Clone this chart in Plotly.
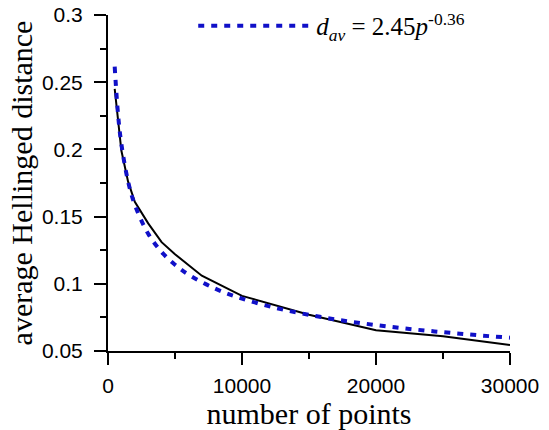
import plotly.graph_objects as go

# measured data (black solid line)
points = [500, 1000, 1500, 2000, 3000, 4000, 5000, 7000, 10000, 15000, 20000, 25000, 30000]
avg_dist = [0.245, 0.199, 0.176, 0.161, 0.145, 0.131, 0.122, 0.106, 0.091, 0.077, 0.0655, 0.061, 0.0545]

# fitted curve d_av = 2.45 p^-0.36 (values read at sample points)
fit_points = [500, 750, 1000, 1500, 2000, 3000, 4000, 5000, 6000, 8000, 10000, 12500,
              15000, 17500, 20000, 22500, 25000, 27500, 30000]
fit_dist = [0.2615, 0.2260, 0.2038, 0.1761, 0.1588, 0.1372, 0.1237, 0.1142, 0.1069, 0.0964,
            0.0890, 0.0821, 0.0769, 0.0727, 0.0693, 0.0664, 0.0640, 0.0618, 0.0599]

x_ticks = [0, 10000, 20000, 30000]
y_ticks = [0.05, 0.1, 0.15, 0.2, 0.25, 0.3]

serif = "Liberation Serif"
sans = "Liberation Sans"

fig = go.Figure()
fig.add_trace(go.Scatter(
    x=points, y=avg_dist, mode="lines",
    line=dict(color="black", width=2),
    showlegend=False,
))
fig.add_trace(go.Scatter(
    x=fit_points, y=fit_dist, mode="lines",
    line=dict(color="#1010c8", width=4, dash="6px,7px", shape="spline"),
    name="<i>d</i><sub><i>av</i></sub> = 2.45<i>p</i><sup>-0.36</sup>",
    showlegend=True,
))

fig.update_layout(
    width=549, height=430,
    margin=dict(l=108, r=39, t=15, b=79, autoexpand=False),
    paper_bgcolor="white", plot_bgcolor="white",
    showlegend=True,
    legend=dict(
        x=0.212, y=1.036, xanchor="left", yanchor="top",
        bgcolor="rgba(0,0,0,0)",
        font=dict(family=serif, size=25, color="black"),
        itemwidth=113,
    ),
    xaxis=dict(
        range=[0, 30000], automargin=False,
        tickvals=x_ticks, tickformat="d",
        ticks="outside", ticklen=12, tickwidth=2, tickcolor="black",
        ticklabelstandoff=3,
        showline=True, linecolor="black", linewidth=2,
        showgrid=False, zeroline=False,
        tickfont=dict(family=sans, size=21, color="black"),
        minor=dict(dtick=5000, ticks="outside", ticklen=6, tickwidth=2, tickcolor="black", showgrid=False),
        title=dict(text="number of points", font=dict(family=serif, size=30, color="black"), standoff=2),
    ),
    yaxis=dict(
        range=[0.05, 0.3], automargin=False,
        tickvals=y_ticks,
        ticks="outside", ticklen=12, tickwidth=2, tickcolor="black",
        ticklabelstandoff=7,
        showline=True, linecolor="black", linewidth=2,
        showgrid=False, zeroline=False,
        tickfont=dict(family=sans, size=21, color="black"),
        minor=dict(dtick=0.025, ticks="outside", ticklen=6, tickwidth=2, tickcolor="black", showgrid=False),
        title=dict(text="average Hellinged distance", font=dict(family=serif, size=30, color="black"), standoff=0),
    ),
)

fig.write_html("out.html", config={"displayModeBar": False},
               post_script="document.body.style.margin='0';")
